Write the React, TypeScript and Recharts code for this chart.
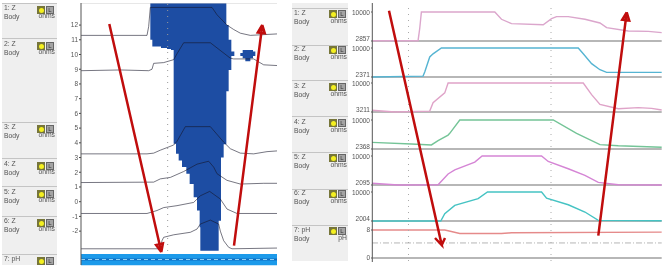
import React from "react";
import { ComposedChart, LineChart, Line, Area, XAxis, YAxis, ReferenceLine } from "recharts";

const FONT = "'Liberation Sans', Arial, sans-serif";

// Left panel: channel labels (rule = separator position, mid = label position)
const leftRows = [
  { name: "1: Z", sub: "Body", unit: "ohms", rule: 3, mid: 7 },
  { name: "2: Z", sub: "Body", unit: "ohms", rule: 38, mid: 43 },
  { name: "3: Z", sub: "Body", unit: "ohms", rule: 122, mid: 126 },
  { name: "4: Z", sub: "Body", unit: "ohms", rule: 158, mid: 163 },
  { name: "5: Z", sub: "Body", unit: "ohms", rule: 186, mid: 191 },
  { name: "6: Z", sub: "Body", unit: "ohms", rule: 216, mid: 220 },
  { name: "7: pH", sub: "", unit: "", rule: 254, mid: 258 },
];
const rightRows = [
  { name: "1: Z", sub: "Body", unit: "ohms", rule: 8, mid: 12 },
  { name: "2: Z", sub: "Body", unit: "ohms", rule: 45, mid: 48 },
  { name: "3: Z", sub: "Body", unit: "ohms", rule: 80, mid: 85 },
  { name: "4: Z", sub: "Body", unit: "ohms", rule: 116, mid: 121 },
  { name: "5: Z", sub: "Body", unit: "ohms", rule: 152, mid: 156 },
  { name: "6: Z", sub: "Body", unit: "ohms", rule: 189, mid: 192 },
  { name: "7: pH", sub: "Body", unit: "pH", rule: 225, mid: 229 },
];

// Left panel: time axis and contour lines
const leftTicks = [-2, -1, 0, 1, 2, 3, 4, 5, 6, 7, 8, 9, 10, 11, 12];
const contour1T = [0, 198, 203, 208, 393, 408, 438, 458, 478, 508, 588];
const contour1V = [11.3, 11.3, 11.9, 13.2, 13.2, 12.7, 12.0, 11.7, 11.45, 11.3, 11.4];
const contour2T = [0, 118, 203, 213, 218, 248, 278, 288, 308, 388, 448, 458, 518, 548, 588];
const contour2V = [8.9, 8.95, 8.9, 9.0, 9.4, 9.45, 9.65, 10.05, 10.8, 10.8, 9.75, 9.7, 9.7, 9.3, 9.25];
const contour3T = [0, 198, 218, 238, 278, 288, 313, 388, 428, 448, 478, 518, 558, 588];
const contour3V = [3.25, 3.25, 3.3, 3.5, 3.85, 4.1, 5.1, 5.1, 4.05, 3.6, 3.3, 3.25, 3.4, 3.45];
const contour4T = [0, 218, 238, 268, 308, 348, 383, 398, 408, 438, 478, 548, 588];
const contour4V = [1.3, 1.33, 1.55, 1.65, 2.05, 2.55, 2.75, 2.35, 1.9, 1.45, 1.2, 1.25, 1.25];
const contour5T = [0, 198, 228, 248, 288, 338, 358, 386, 418, 438, 468, 588];
const contour5V = [-0.8, -0.8, -0.6, -0.4, -0.27, -0.05, 0.4, 0.7, 0.18, -0.5, -0.8, -0.8];
const contour6T = [0, 238, 243, 248, 278, 328, 348, 358, 388, 413, 418, 428, 443, 453, 588];
const contour6V = [-3.2, -3.2, -2.65, -2.42, -2.25, -2.08, -1.86, -1.52, -1.25, -1.52, -2, -2.65, -3.1, -3.2, -3.15];

// Left panel: color-topography block (lower/upper bound per time sample)
const blobT = [208, 214, 240, 258, 270, 278, 285, 293, 303, 316, 326, 338, 348, 356, 358, 413, 420, 428, 436, 443, 451, 460];
const blobLow = [11.0, 10.55, 10.45, 10.37, 10.3, 3.93, 3.25, 2.8, 2.35, 1.9, 1.2, 0.3, -0.6, -1.74, -3.33, -1.3, 3.0, 3.9, 7.5, 8.95, 9.9, 9.9];
const blobHigh = [13.5, 13.5, 13.5, 13.5, 13.5, 13.5, 13.5, 13.5, 13.5, 13.5, 13.5, 13.5, 13.5, 13.5, 13.5, 13.5, 13.5, 13.5, 12.0, 11.0, 10.2, 10.2];
const spotT = [478, 485, 493, 508, 516, 523];
const spotLow = [9.9, 9.75, 9.55, 9.75, 9.9, 9.9];
const spotHigh = [10.1, 10.3, 10.3, 10.3, 10.2, 10.2];
const bandT = [0, 588];
const bandHalf = [0.75, 0.75];
const bandMid = [0, 0];

// Right panel: impedance channels
const timeR1 = [0, 138, 143, 148, 368, 388, 418, 513, 538, 553, 588, 638, 683, 703, 768, 828, 868];
const ohms1 = [2930, 2930, 5930, 10000, 10000, 8210, 7140, 6860, 8360, 8860, 8860, 8210, 7290, 6140, 5320, 5240, 4930];
const timeR2 = [0, 153, 158, 173, 183, 208, 618, 633, 658, 683, 703, 868];
const ohms2 = [2371, 2600, 3670, 7630, 8470, 10000, 10000, 8470, 5880, 4280, 3590, 3590];
const timeR3 = [0, 68, 173, 183, 218, 228, 633, 658, 683, 738, 798, 838, 868];
const ohms3 = [3620, 3211, 3415, 5380, 7690, 10000, 10000, 7280, 4975, 3960, 4230, 4060, 3690];
const timeR4 = [0, 118, 178, 198, 228, 233, 263, 543, 613, 683, 738, 868];
const ohms4 = [4120, 3665, 3440, 4580, 6030, 6490, 10000, 10000, 6490, 3510, 3210, 2825];
const timeR5 = [0, 78, 198, 228, 248, 308, 330, 508, 528, 588, 638, 678, 738, 868];
const ohms5 = [2570, 2095, 2175, 5100, 6205, 8340, 10000, 10000, 8500, 6520, 4700, 2805, 2175, 2095];
const timeR6 = [0, 206, 218, 248, 318, 346, 508, 523, 588, 638, 678, 868];
const ohms6 = [2004, 2004, 4000, 6320, 8160, 10000, 10000, 8320, 6480, 4480, 2165, 2090];
const channelMin = [2857, 2371, 3211, 2368, 2095, 2004];
const channelTop = [12, 47.7, 83.3, 120, 156.3, 192.3];
const channelColor = ["#dba6cc", "#55b4d2", "#dfa3c8", "#74c497", "#d585d5", "#45c3c3"];
const channelT = [timeR1, timeR2, timeR3, timeR4, timeR5, timeR6];
const channelV = [ohms1, ohms2, ohms3, ohms4, ohms5, ohms6];
const phT = [0, 218, 228, 263, 388, 418, 868];
const phV = [8, 8, 7.8, 7, 7, 7.2, 7.4];

// Annotation arrows, in page units
const arrowA = { x: [109.3, 161.3, 162.9, 156.1, 161.3], y: [24, 252, 243.4, 245, 252] };
const arrowB = { x: [234, 262.3, 264.8, 257.8, 262.3], y: [245.7, 25, 33.3, 32.5, 25] };
const arrowC = { x: [389, 441.7, 435, 441.7, 445], y: [10.7, 245, 238, 245, 238] };
const arrowD = { x: [598.3, 626.7, 629.2, 622.2, 626.7], y: [235.7, 12.3, 20.6, 19.8, 12.3] };
const arrows = [arrowA, arrowB, arrowC, arrowD];

const zip = (t: number[], v: number[]) => t.map((x, i) => ({ t: x, v: v[i] }));
const zipRange = (t: number[], lo: number[], hi: number[]) => t.map((x, i) => ({ t: x, r: [lo[i], hi[i]] }));

const tickStyle = { fontSize: 6.5, fill: "#555", fontFamily: FONT };

function ChannelTick(props: any) {
  const { x, y, payload } = props;
  const isTop = payload.value === 10000;
  return (
    <text x={x} y={isTop ? y + 3 : y} textAnchor="end" style={tickStyle}>
      {payload.value}
    </text>
  );
}

function Icons({ x, y, unit, dy }: { x: number; y: number; unit: string; dy: number }) {
  return (
    <>
      <div style={{ position: "absolute", left: x, top: y, width: 8, height: 8, background: "#77763a", display: "flex", alignItems: "center", justifyContent: "center" }}>
        <div style={{ width: 5, height: 5, borderRadius: 3, background: "#f4f020" }} />
      </div>
      <div style={{ position: "absolute", left: x + 9, top: y, width: 8, height: 8, background: "#a4a4a4", border: "1px solid #666", boxSizing: "border-box", color: "#333", fontSize: 6, lineHeight: "6px", textAlign: "center" }}>L</div>
      <div style={{ position: "absolute", left: x, top: y + dy, width: 18, color: "#555", fontSize: 6.8, lineHeight: "7px", textAlign: "right" }}>{unit}</div>
    </>
  );
}

function Labels({ rows, left, width, iconX, iconDy, unitDy, top, bottom }: { rows: typeof leftRows; left: number; width: number; iconX: number; iconDy: number; unitDy: number; top: number; bottom: number }) {
  return (
    <div style={{ position: "absolute", left, top, width, height: bottom - top, background: "#efefef" }}>
      {rows.map((r) => (
        <React.Fragment key={r.name}>
          <div style={{ position: "absolute", left: 0, top: r.rule - top, width, height: 1, background: "#c4c4c4" }} />
          <div style={{ position: "absolute", left: 2, top: r.mid - top - 4.5, color: "#555", fontSize: 6.8, lineHeight: "9px" }}>
            {r.name}
            <br />
            {r.sub}
          </div>
          <Icons x={iconX} y={r.mid - top + iconDy} unit={r.unit} dy={unitDy} />
        </React.Fragment>
      ))}
    </div>
  );
}

function Channel({ i }: { i: number }) {
  const top = channelTop[i];
  return (
    <div style={{ position: "absolute", left: 340.3, top: top - 5 }}>
      <LineChart width={321.7} height={39} margin={{ top: 5, right: 0, bottom: 5, left: 0 }} data={zip(channelT[i], channelV[i])}>
        <XAxis dataKey="t" type="number" domain={[0, 868]} hide />
        <YAxis type="number" width={32} domain={[channelMin[i], 10000]} ticks={[channelMin[i], 10000]} interval={0} tick={ChannelTick} tickSize={1} tickMargin={1} tickLine={{ stroke: "#555" }} axisLine={false} />
        <ReferenceLine y={channelMin[i]} stroke="#707070" strokeWidth={1.2} />
        <Line dataKey="v" stroke={channelColor[i]} strokeWidth={1.4} dot={false} activeDot={false} isAnimationActive={false} />
      </LineChart>
    </div>
  );
}

export default function App() {
  const contours = [zip(contour1T, contour1V), zip(contour2T, contour2V), zip(contour3T, contour3V), zip(contour4T, contour4V), zip(contour5T, contour5V), zip(contour6T, contour6V)];
  const bandData = bandT.map((t, i) => ({ t, r: [-bandHalf[i], bandHalf[i]], m: bandMid[i] }));
  return (
    <div style={{ position: "absolute", left: 0, top: 0, width: 663, height: 268, background: "#fff", overflow: "hidden", fontFamily: FONT, filter: "blur(0.35px)" }}>
      <Labels rows={leftRows} left={2} width={55} iconX={35} iconDy={-1} unitDy={6} top={3} bottom={265} />
      <Labels rows={rightRows} left={292} width={56} iconX={37} iconDy={-2} unitDy={7} top={3} bottom={261} />

      <div style={{ position: "absolute", left: 60, top: 3 }}>
        <ComposedChart width={217} height={248} margin={{ top: 0, right: 0, bottom: 0, left: 1 }}>
          <XAxis dataKey="t" type="number" domain={[0, 588]} hide />
          <YAxis type="number" width={20} domain={[-3.35, 13.5]} ticks={leftTicks} interval={0} allowDataOverflow tick={tickStyle} tickSize={2} tickMargin={1} tickLine={{ stroke: "#444" }} axisLine={false} />
          <ReferenceLine y={13.5} stroke="#cfcfcf" />
          <ReferenceLine x={260} stroke="#999" strokeDasharray="1 5" />
          <Area data={zipRange(blobT, blobLow, blobHigh)} dataKey="r" type="stepAfter" fill="#1d4da3" fillOpacity={1} stroke="none" isAnimationActive={false} />
          <Area data={zipRange(spotT, spotLow, spotHigh)} dataKey="r" type="stepAfter" fill="#1d4da3" fillOpacity={1} stroke="none" isAnimationActive={false} />
          {contours.map((d, i) => (
            <Line key={i} data={d} dataKey="v" stroke="#141428" strokeOpacity={0.58} strokeWidth={1} dot={false} activeDot={false} isAnimationActive={false} />
          ))}
        </ComposedChart>
      </div>

      <div style={{ position: "absolute", left: 60, top: 251.5 }}>
        <ComposedChart width={217} height={15} margin={{ top: 0, right: 0, bottom: 0, left: 1 }} data={bandData}>
          <XAxis dataKey="t" type="number" domain={[0, 588]} hide />
          <YAxis type="number" width={20} domain={[-1, 1]} ticks={[0]} tick={tickStyle} tickSize={2} tickMargin={1} tickLine={{ stroke: "#444" }} axisLine={false} />
          <Area dataKey="r" fill="#1c9aea" fillOpacity={1} stroke="none" isAnimationActive={false} />
          <Line dataKey="m" stroke="#0f6cc0" strokeWidth={2} dot={false} activeDot={false} isAnimationActive={false} />
          <Line dataKey="m" stroke="#8fd0f5" strokeWidth={1} strokeDasharray="4 3" dot={false} activeDot={false} isAnimationActive={false} />
        </ComposedChart>
      </div>

      {channelT.map((_, i) => <Channel key={i} i={i} />)}

      <div style={{ position: "absolute", left: 340.3, top: 225 }}>
        <LineChart width={321.7} height={38} margin={{ top: 5, right: 0, bottom: 5, left: 0 }} data={zip(phT, phV)}>
          <XAxis dataKey="t" type="number" domain={[0, 868]} hide />
          <YAxis type="number" width={32} domain={[0, 8]} ticks={[0, 8]} interval={0} tick={tickStyle} tickSize={1} tickMargin={1} tickLine={{ stroke: "#555" }} axisLine={false} />
          <ReferenceLine y={0} stroke="#707070" strokeWidth={1.2} />
          <ReferenceLine y={4.3} stroke="#b5b5b5" strokeDasharray="6 2 1 2" />
          <Line dataKey="v" stroke="#e58a8a" strokeWidth={1.4} dot={false} activeDot={false} isAnimationActive={false} />
        </LineChart>
      </div>

      <div style={{ position: "absolute", left: 0, top: 0 }}>
        <ComposedChart width={663} height={268} margin={{ top: 0, right: 0, bottom: 0, left: 0 }}>
          <XAxis dataKey="x" type="number" domain={[0, 663]} hide />
          <YAxis dataKey="y" type="number" domain={[0, 268]} reversed hide />
          <ReferenceLine segment={[{ x: 81, y: 3 }, { x: 81, y: 265 }]} stroke="#555" />
          <ReferenceLine segment={[{ x: 372.3, y: 3 }, { x: 372.3, y: 262 }]} stroke="#555" />
          <ReferenceLine segment={[{ x: 408.5, y: 8 }, { x: 408.5, y: 262 }]} stroke="#aaa" strokeDasharray="1 5" />
          <ReferenceLine segment={[{ x: 551, y: 8 }, { x: 551, y: 262 }]} stroke="#aaa" strokeDasharray="1 5" />
          {arrows.map((a, i) => (
            <Line key={i} data={a.x.map((x, k) => ({ x, y: a.y[k] }))} dataKey="y" stroke="#c00d0d" strokeWidth={2.5} strokeLinejoin="miter" dot={false} activeDot={false} isAnimationActive={false} />
          ))}
        </ComposedChart>
      </div>
    </div>
  );
}
